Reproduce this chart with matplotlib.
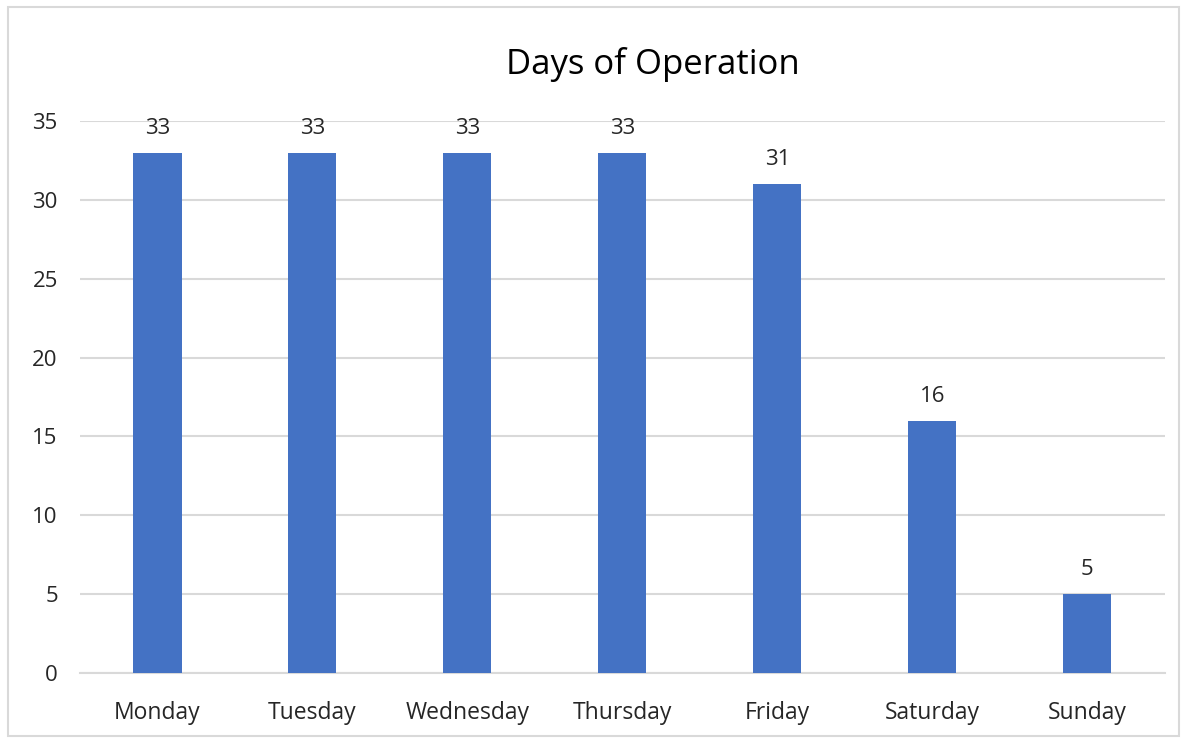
import numpy as np
import matplotlib.pyplot as plt
from matplotlib.patches import Rectangle

plt.rcParams['font.family'] = ['Open Sans', 'DejaVu Sans']

days = ['Monday', 'Tuesday', 'Wednesday', 'Thursday', 'Friday', 'Saturday', 'Sunday']
counts = [33, 33, 33, 33, 31, 16, 5]
yticks = [0, 5, 10, 15, 20, 25, 30, 35]

fig = plt.figure(figsize=(11.85, 7.4), dpi=100)
ax = fig.add_axes([0.0675, 0.0905, 0.9155, 0.746])

x = np.arange(len(days))
bars = ax.bar(x, counts, width=0.31, color='#4472C4', zorder=3)

for xi, v in zip(x, counts):
    ax.annotate(str(v), (xi, v), xytext=(0, 10), textcoords='offset points',
                ha='center', va='bottom', fontsize=16, color='#262626')

ax.set_xlim(-0.5, len(days) - 0.5)
ax.set_ylim(0, 35)
ax.set_yticks(yticks)
ax.set_xticks(x)
ax.set_xticklabels(days)
ax.tick_params(axis='both', length=0, labelsize=16, colors='#262626')
ax.tick_params(axis='x', labelsize=16.5, pad=20)
ax.tick_params(axis='y', pad=16)
ax.grid(axis='y', color='#D9D9D9', linewidth=1.5, zorder=0)
for s in ['top', 'right', 'left']:
    ax.spines[s].set_visible(False)
ax.spines['bottom'].set_color('#D9D9D9')
ax.spines['bottom'].set_linewidth(1.5)

fig.text(0.551, 0.913, 'Days of Operation', ha='center', va='center',
         fontsize=25, color='#000000')

# outer chart border
fig.patches.append(Rectangle((0.007, 0.005), 0.988, 0.985, transform=fig.transFigure,
                             fill=False, edgecolor='#D9D9D9', linewidth=1.5))

fig.savefig('out.png', dpi=100)
